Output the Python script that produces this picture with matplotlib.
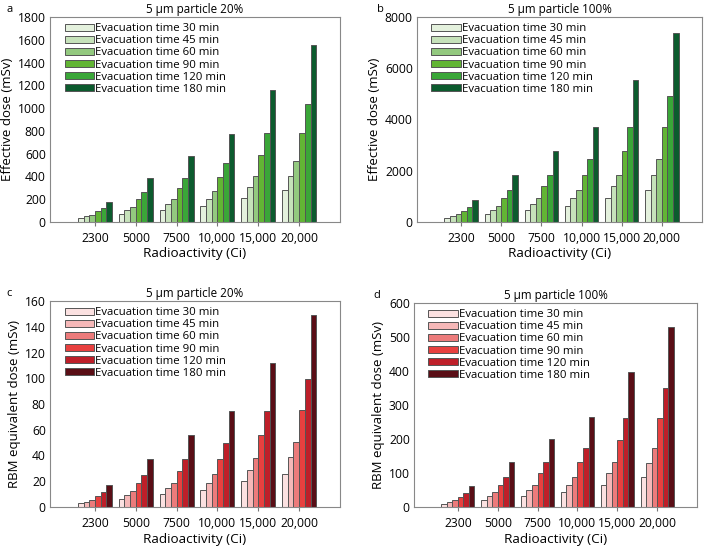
import numpy as np
import matplotlib
matplotlib.use('Agg')
import matplotlib.pyplot as plt

plt.rcParams['font.family'] = ['Open Sans', 'DejaVu Sans']

activity = ['2300', '5000', '7500', '10,000', '15,000', '20,000']
times = ['30', '45', '60', '90', '120', '180']

# panel a: effective dose, 5 um particle 20% (rows = evacuation time)
eff_20 = [
    [35, 72, 108, 142, 212, 285],
    [52, 102, 155, 205, 305, 408],
    [62, 135, 200, 268, 400, 535],
    [95, 200, 295, 395, 590, 785],
    [120, 260, 390, 520, 780, 1040],
    [178, 388, 580, 775, 1160, 1550],
]
# panel b: effective dose, 5 um particle 100%
eff_100 = [
    [150, 310, 460, 610, 920, 1230],
    [230, 460, 690, 920, 1390, 1840],
    [300, 610, 920, 1230, 1840, 2460],
    [420, 920, 1390, 1840, 2760, 3690],
    [570, 1230, 1840, 2460, 3690, 4910],
    [860, 1840, 2760, 3690, 5530, 7370],
]
# panel c: RBM equivalent dose, 20%
rbm_20 = [
    [2.8, 6.5, 10, 13, 20, 26],
    [4.2, 9.5, 14.5, 19, 28.5, 38.5],
    [5.7, 12.7, 19, 25.3, 38, 50.5],
    [8.5, 18.8, 28, 37.5, 56, 75],
    [11.3, 24.8, 37.2, 49.6, 74.5, 99.2],
    [17, 37.2, 55.8, 74.4, 112, 149],
]
# panel d: RBM equivalent dose, 100%
rbm_100 = [
    [10, 22, 33, 44, 66, 87],
    [15, 33, 49, 66, 99, 130],
    [20, 44, 66, 88, 131, 174],
    [30, 66, 99, 131, 197, 262],
    [40, 88, 132, 175, 262, 350],
    [61, 133, 199, 265, 397, 529],
]

greens = ['#e4f1dd', '#c6e2ba', '#93c97f', '#62b534', '#3aa638', '#0c5b2e']
reds = ['#fbe1e1', '#f5b8b8', '#ec7b7b', '#e8403f', '#be1f29', '#5a0e16']

fig = plt.figure(figsize=(7.08, 5.49), dpi=100)
W, H = 708, 549
boxes = [(50, 17, 340, 222), (417, 17, 702, 222),
         (50, 301, 340, 507), (414, 303, 697, 507)]
panels = [
    ('a', '5 μm particle 20%', eff_20, greens, 'Effective dose (mSv)', 1800, 200),
    ('b', '5 μm particle 100%', eff_100, greens, 'Effective dose (mSv)', 8000, 2000),
    ('c', '5 μm particle 20%', rbm_20, reds, 'RBM equivalent dose (mSv)', 160, 20),
    ('d', '5 μm particle 100%', rbm_100, reds, 'RBM equivalent dose (mSv)', 600, 100),
]

x = np.arange(len(activity))
bw = 0.139
for (l, t, r, b), (lab, title, data, cols, ylab, ymax, ystep) in zip(boxes, panels):
    ax = fig.add_axes([l / W, 1 - b / H, (r - l) / W, (b - t) / H])
    for i in range(len(times)):
        ax.bar(x + (i - 2.5) * bw, data[i], bw, color=cols[i], edgecolor='#555555',
               linewidth=0.7, label='Evacuation time %s min' % times[i])
    ax.set_xlim(-1.1, 6.0)
    ax.set_ylim(0, ymax)
    ax.set_yticks(np.arange(0, ymax + 1, ystep))
    ax.set_xticks(x)
    ax.set_xticklabels(activity)
    ax.tick_params(axis='x', length=3, color='#777777', labelsize=8.7, pad=4)
    ax.tick_params(axis='y', length=0, labelsize=8.7, pad=3)
    for s in ax.spines.values():
        s.set_color('#888888')
    ax.set_ylabel(ylab, fontsize=9.5, labelpad=3)
    ax.set_xlabel('Radioactivity (Ci)', fontsize=9.7, labelpad=2)
    ax.set_title(title, fontsize=8.4, pad=3)
    ax.text(lab in 'ac' and -0.14 or -0.13, 1.01, lab, transform=ax.transAxes,
            fontsize=8, va='bottom', ha='center')
    ax.legend(loc='upper left', frameon=False, fontsize=8.2, handlelength=2.6,
              handleheight=0.55, labelspacing=0.1, handletextpad=0.1,
              borderpad=0, borderaxespad=0, bbox_to_anchor=(0.05, 0.97))

fig.savefig('out.png', dpi=100)
